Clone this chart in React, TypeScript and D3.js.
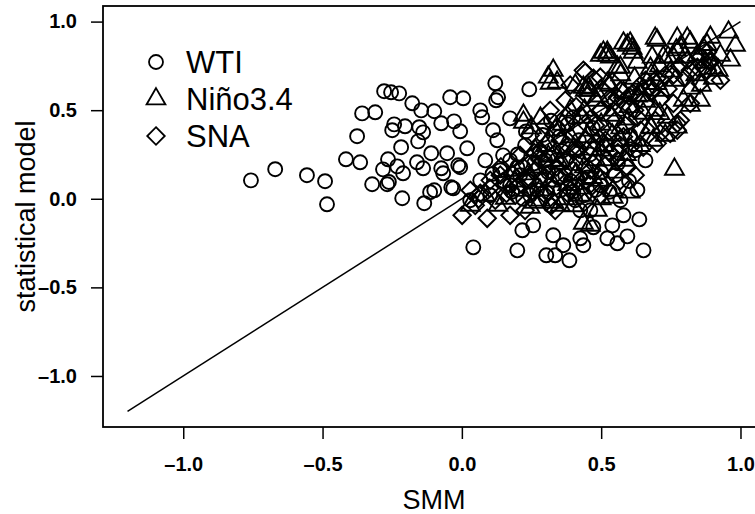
import React, { useEffect, useRef } from 'react';
import * as d3 from 'd3';

// values (SMM, statistical model)
const wti = [
  [-0.757, 0.104], [-0.67, 0.167], [-0.556, 0.133], [-0.491, 0.099], [-0.484, -0.031],
  [-0.416, 0.223], [-0.365, 0.206], [-0.376, 0.353], [-0.358, 0.482], [-0.311, 0.488],
  [-0.279, 0.607], [-0.254, 0.601], [-0.225, 0.595], [-0.178, 0.539], [-0.146, 0.499],
  [-0.099, 0.494], [-0.074, 0.426], [-0.042, 0.573], [0.005, 0.567], [-0.028, 0.437],
  [-0.006, 0.381], [-0.25, 0.387], [-0.243, 0.42], [-0.204, 0.409], [-0.153, 0.404],
  [-0.139, 0.375], [-0.157, 0.324], [-0.218, 0.291], [-0.265, 0.223], [-0.283, 0.166],
  [-0.232, 0.183], [-0.211, 0.144], [-0.161, 0.206], [-0.139, 0.172], [-0.11, 0.257],
  [-0.074, 0.172], [-0.053, 0.257], [-0.013, 0.189], [0.019, 0.285], [-0.322, 0.082],
  [-0.268, 0.082], [-0.262, 0.095], [-0.214, 0.003], [-0.135, -0.025], [-0.114, 0.037],
  [-0.099, 0.048], [-0.038, 0.065], [0.041, -0.274], [0.12, 0.652], [0.242, 0.618],
  [0.123, 0.556], [0.13, 0.573], [0.066, 0.499], [0.073, 0.46], [0.173, 0.454],
  [0.112, 0.387], [0.127, 0.33], [0.148, 0.245], [0.173, 0.217], [0.199, 0.178],
  [0.199, -0.291], [0.303, -0.319], [0.335, -0.319], [0.364, -0.262], [0.386, -0.347],
  [0.328, -0.206], [0.425, -0.223], [0.436, -0.262], [0.217, -0.178], [0.256, -0.15],
  [0.472, -0.161], [0.522, -0.223], [0.558, -0.251], [-0.031, 0.059], [-0.006, 0.178],
  [-0.067, 0.144], [0.58, -0.093], [0.637, -0.116], [0.594, -0.212], [0.652, -0.291],
  [0.54, -0.15], [0.138, 0.161], [0.173, 0.076], [0.209, 0.133], [0.245, 0.02],
  [0.281, 0.104], [0.317, -0.037], [0.353, 0.048], [0.407, -0.008], [0.461, -0.065],
  [0.497, 0.076], [0.604, 0.358], [0.622, 0.274], [0.551, 0.133], [0.066, 0.104],
  [0.102, 0.02], [0.03, -0.008], [0.084, 0.217], [0.227, 0.302], [0.299, 0.217],
  [0.371, 0.133], [0.425, -0.065], [0.569, -0.008], [0.659, 0.217], [0.2, 0.25],
  [0.26, 0.2], [0.31, 0.15], [0.36, 0.27], [0.41, 0.2], [0.46, 0.25], [0.33, 0.06],
  [0.39, 0.1], [0.44, 0.02], [0.27, 0.05], [0.22, 0.0], [0.5, 0.15], [0.35, 0.35],
  [0.42, 0.33], [0.29, 0.36], [0.52, 0.3], [0.47, 0.4], [0.38, 0.42],
  [0.24, 0.1], [0.3, 0.18], [0.34, 0.22], [0.4, 0.04], [0.45, 0.12], [0.48, 0.05],
  [0.53, 0.04], [0.15, 0.1], [0.11, 0.14], [0.18, 0.04], [0.28, 0.26], [0.23, 0.38],
  [0.32, 0.44], [0.4, 0.46], [0.56, 0.2], [0.6, 0.1], [0.63, 0.05],
];

const nino = [
  [0.957, 0.94], [0.892, 0.911], [0.773, 0.906], [0.809, 0.906], [0.82, 0.883],
  [0.694, 0.906], [0.683, 0.799], [0.604, 0.878], [0.594, 0.866], [0.615, 0.827],
  [0.522, 0.827], [0.533, 0.799], [0.903, 0.68], [0.903, 0.736], [0.795, 0.556],
  [0.82, 0.624], [0.569, 0.742], [0.723, 0.799], [0.759, 0.799], [0.784, 0.855],
  [0.845, 0.81], [0.867, 0.849], [0.763, 0.166], [0.677, 0.404], [0.651, 0.482],
  [0.737, 0.46], [0.773, 0.404], [0.615, 0.33], [0.687, 0.33], [0.701, 0.894],
  [0.611, 0.849], [0.58, 0.878], [0.508, 0.827], [0.328, 0.725], [0.342, 0.657],
  [0.543, 0.048], [0.604, 0.037], [0.677, 0.736], [0.63, 0.77], [0.558, 0.742],
  [0.454, 0.624], [0.443, 0.612], [0.31, 0.686], [0.317, 0.652], [0.221, 0.471],
  [0.221, 0.432], [0.282, 0.454], [0.497, 0.81], [0.522, 0.81], [0.436, 0.629],
  [0.461, 0.612], [0.522, 0.652], [0.436, -0.138], [0.461, -0.15], [0.486, -0.065],
  [0.543, 0.008], [0.353, 0.217], [0.407, 0.133], [0.497, 0.274], [0.569, 0.33],
  [0.156, 0.003], [0.209, 0.048], [0.282, -0.008], [0.353, -0.037], [0.425, 0.02],
  [0.497, 0.104], [0.641, 0.584], [0.712, 0.612], [0.856, 0.556], [0.92, 0.725],
  [0.982, 0.866], [0.82, 0.527], [0.73, 0.358], [0.587, 0.217], [0.461, 0.387],
  [0.389, 0.499], [0.335, 0.387], [0.263, 0.274], [0.192, 0.161], [0.084, 0.02],
  [0.03, -0.037], [0.13, -0.037], [0.245, -0.048], [0.694, 0.499], [0.533, 0.471],
  [0.479, 0.556], [0.407, 0.641], [0.766, 0.669], [0.874, 0.77], [0.928, 0.81],
  [0.964, 0.782], [0.3, 0.3], [0.35, 0.2], [0.4, 0.28], [0.45, 0.35], [0.5, 0.42],
  [0.55, 0.5], [0.6, 0.45], [0.52, 0.22], [0.47, 0.12], [0.42, 0.06], [0.37, 0.0],
  [0.32, 0.1], [0.27, 0.18], [0.25, 0.4], [0.43, 0.46], [0.58, 0.6], [0.62, 0.68],
  [0.66, 0.55], [0.7, 0.65], [0.75, 0.72],
  [0.28, 0.05], [0.33, -0.02], [0.38, 0.08], [0.41, 0.14], [0.44, 0.18], [0.48, 0.22],
  [0.51, 0.3], [0.54, 0.36], [0.57, 0.4], [0.6, 0.52], [0.63, 0.58], [0.65, 0.62],
  [0.68, 0.7], [0.71, 0.75], [0.74, 0.8], [0.77, 0.84], [0.8, 0.8], [0.84, 0.7],
  [0.86, 0.64], [0.88, 0.87], [0.36, 0.42], [0.39, 0.35], [0.31, 0.24], [0.24, 0.14],
  [0.19, 0.1], [0.44, 0.5], [0.49, 0.58], [0.53, 0.64], [0.57, 0.7], [0.47, 0.28],
  [0.55, 0.15], [0.59, 0.25], [0.64, 0.3], [0.68, 0.4], [0.71, 0.48], [0.26, -0.02],
  [0.4, -0.04], [0.5, 0.0],
];

const sna = [
  [0.001, -0.093], [0.091, -0.11], [0.066, 0.031], [0.443, 0.714], [0.472, 0.68],
  [0.436, 0.725], [0.497, 0.686], [0.809, 0.782], [0.845, 0.742], [0.892, 0.782],
  [0.881, 0.725], [0.856, 0.652], [0.82, 0.539], [0.773, 0.426], [0.748, 0.369],
  [0.604, 0.516], [0.533, 0.556], [0.63, 0.46], [0.558, 0.217], [0.594, 0.178],
  [0.701, 0.313], [0.651, 0.291], [0.604, 0.291], [0.881, 0.827], [0.892, 0.77],
  [0.867, 0.742], [0.856, 0.799], [0.784, 0.443], [0.773, 0.387], [0.712, 0.369],
  [0.759, 0.539], [0.615, 0.595], [0.558, 0.573], [0.677, 0.629], [0.03, 0.048],
  [0.048, -0.037], [0.12, -0.008], [0.156, 0.076], [0.192, 0.02], [0.227, 0.104],
  [0.263, 0.161], [0.299, 0.048], [0.335, 0.133], [0.371, 0.217], [0.407, 0.274],
  [0.443, 0.33], [0.479, 0.415], [0.515, 0.33], [0.551, 0.443], [0.587, 0.415],
  [0.353, 0.33], [0.299, 0.415], [0.245, 0.358], [0.317, 0.499], [0.371, 0.556],
  [0.425, 0.471], [0.209, 0.245], [0.138, 0.133], [0.102, 0.104], [0.281, 0.274],
  [0.389, 0.048], [0.461, 0.161], [0.515, 0.189], [0.641, 0.387], [0.694, 0.443],
  [0.712, 0.561], [0.73, 0.697], [0.659, 0.669], [0.82, 0.725], [0.928, 0.669],
  [0.497, 0.02], [0.443, 0.104], [0.335, -0.065], [0.227, -0.065], [0.173, -0.093],
  [0.569, 0.104], [0.622, 0.133], [0.497, 0.499], [0.569, 0.612], [0.389, 0.641],
  [0.28, 0.22], [0.33, 0.25], [0.38, 0.3], [0.43, 0.24], [0.48, 0.32], [0.53, 0.38],
  [0.58, 0.35], [0.24, 0.12], [0.3, 0.02], [0.35, 0.12], [0.4, 0.16], [0.46, 0.08],
  [0.51, 0.1], [0.56, 0.26], [0.62, 0.5], [0.68, 0.6], [0.74, 0.62], [0.78, 0.75],
  [0.2, 0.07], [0.16, 0.03], [0.1, 0.06],
  [0.22, 0.18], [0.26, 0.26], [0.31, 0.32], [0.34, 0.4], [0.37, 0.46], [0.41, 0.52],
  [0.45, 0.58], [0.5, 0.62], [0.54, 0.66], [0.41, 0.38], [0.46, 0.45], [0.5, 0.5],
  [0.55, 0.55], [0.6, 0.58], [0.64, 0.64], [0.7, 0.68], [0.76, 0.7], [0.8, 0.68],
  [0.3, 0.12], [0.34, 0.18], [0.37, 0.22], [0.42, 0.28], [0.47, 0.2], [0.53, 0.26],
  [0.57, 0.3], [0.25, 0.04], [0.32, -0.04], [0.38, 0.03], [0.44, -0.02], [0.14, 0.18],
  [0.18, 0.14], [0.06, 0.0],
];

const xTicks = [-1.0, -0.5, 0.0, 0.5, 1.0];
const yTicks = [-1.0, -0.5, 0.0, 0.5, 1.0];
const refLine = [[-1.2, -1.2], [1.0, 1.0]];
const legendLabels = ['WTI', 'Niño3.4', 'SNA'];

const S = 7; // base symbol size (circle radius)
const triPath = (cx, cy) => {
  const r = 1.555 * S, xc = 1.3468 * S, yc = r / 2;
  return `M${cx},${cy - r}L${cx + xc},${cy + yc}L${cx - xc},${cy + yc}Z`;
};
const diaPath = (cx, cy) => {
  const d = 1.2533 * S;
  return `M${cx},${cy - d}L${cx + d},${cy}L${cx},${cy + d}L${cx - d},${cy}Z`;
};

function App() {
  const ref = useRef(null);

  useEffect(() => {
    const svg = d3.select(ref.current);
    svg.selectAll('*').remove();

    const width = 755;
    const height = 514;
    const left = 103, right = 765, top = 6, bottom = 427;
    const font = '"Liberation Sans", Arial, sans-serif';

    const x = d3.scaleLinear().domain([-1.288, 1.088]).range([left, right]);
    const y = d3.scaleLinear().domain([-1.288, 1.088]).range([bottom, top]);

    svg.attr('width', width).attr('height', height);

    // points
    const g = svg.append('g').attr('fill', 'none').attr('stroke', '#000').attr('stroke-width', 1.9);
    g.selectAll('circle.wti')
      .data(wti)
      .join('circle')
      .attr('cx', (d) => x(d[0]))
      .attr('cy', (d) => y(d[1]))
      .attr('r', S);
    g.selectAll('path.nino')
      .data(nino)
      .join('path')
      .attr('class', 'nino')
      .attr('d', (d) => triPath(x(d[0]), y(d[1])));
    g.selectAll('path.sna')
      .data(sna)
      .join('path')
      .attr('class', 'sna')
      .attr('d', (d) => diaPath(x(d[0]), y(d[1])));

    // 1:1 line
    svg
      .append('path')
      .attr('d', d3.line().x((d) => x(d[0])).y((d) => y(d[1]))(refLine))
      .attr('fill', 'none')
      .attr('stroke', '#000')
      .attr('stroke-width', 1.5);

    // box
    svg
      .append('rect')
      .attr('x', left)
      .attr('y', top)
      .attr('width', right - left)
      .attr('height', bottom - top)
      .attr('fill', 'none')
      .attr('stroke', '#000')
      .attr('stroke-width', 1.8);

    // axes
    const fmt = (d) => d3.format('.1f')(d).replace('−', '–');
    const xAxis = svg
      .append('g')
      .attr('transform', `translate(0,${bottom})`)
      .call(d3.axisBottom(x).tickValues(xTicks).tickSize(12).tickPadding(18).tickFormat(fmt));
    const yAxis = svg
      .append('g')
      .attr('transform', `translate(${left},0)`)
      .call(d3.axisLeft(y).tickValues(yTicks).tickSize(12).tickPadding(14).tickFormat(fmt));
    [xAxis, yAxis].forEach((a) => {
      a.select('.domain').remove();
      a.selectAll('.tick line').attr('stroke-width', 1.5);
      a.selectAll('text')
        .style('font-family', font)
        .style('font-size', '20px')
        .style('font-weight', 'bold')
        .attr('fill', '#000');
    });

    // axis titles
    svg
      .append('text')
      .attr('x', (left + right) / 2)
      .attr('y', 509)
      .attr('text-anchor', 'middle')
      .style('font-family', font)
      .style('font-size', '27px')
      .text('SMM');
    svg
      .append('text')
      .attr('transform', `translate(35,${(top + bottom) / 2}) rotate(-90)`)
      .attr('text-anchor', 'middle')
      .style('font-family', font)
      .style('font-size', '27px')
      .text('statistical model');

    // legend
    const lg = svg.append('g');
    const rows = [62, 99, 136];
    lg.append('circle').attr('cx', 156).attr('cy', rows[0]).attr('r', S)
      .attr('fill', 'none').attr('stroke', '#000').attr('stroke-width', 1.8);
    lg.append('path').attr('d', triPath(156, rows[1]))
      .attr('fill', 'none').attr('stroke', '#000').attr('stroke-width', 1.8);
    lg.append('path').attr('d', diaPath(156, rows[2]))
      .attr('fill', 'none').attr('stroke', '#000').attr('stroke-width', 1.8);
    lg.selectAll('text')
      .data(legendLabels)
      .join('text')
      .attr('x', 186)
      .attr('y', (d, i) => rows[i] + 11)
      .style('font-family', font)
      .style('font-size', '31px')
      .text((d) => d);
  }, []);

  return (
    <svg ref={ref} style={{ position: 'absolute', left: 0, top: 0, display: 'block' }}></svg>
  );
}

export default App;
